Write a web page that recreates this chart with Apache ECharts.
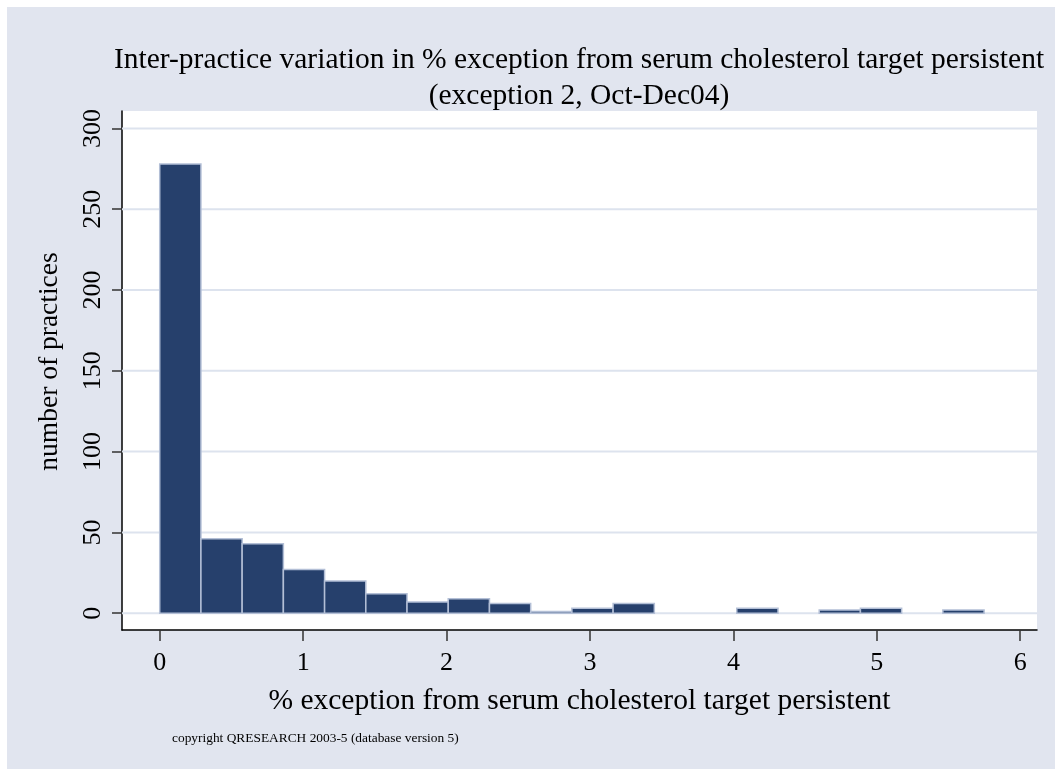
<!DOCTYPE html>
<html>
<head>
<meta charset="utf-8">
<script src="https://cdn.jsdelivr.net/npm/echarts@6/dist/echarts.min.js"></script>
<style>
  html, body { margin: 0; padding: 0; background: #e1e5ef; overflow: hidden; width: 100%; height: 100%; }
  #wrap { position: relative; width: 1055px; height: 769px; overflow: hidden; background: #e1e5ef; }
  #chart { position: absolute; left: 0; top: 0; width: 1055px; height: 769px; }
  .edge { position: absolute; background: #ffffff; pointer-events: none; }
</style>
</head>
<body>
<div id="wrap">
  <div id="chart"></div>
  <div class="edge" style="left:0;top:0;width:1055px;height:7px;"></div>
  <div class="edge" style="left:0;top:0;width:7px;height:769px;"></div>
</div>
<script>
// Histogram of practices by % exception (20 equal-width bins starting at 0)
const binStart = 0;
const binWidth = 0.2874;
const counts = [278, 46, 43, 27, 20, 12, 7, 9, 6, 1, 3, 6, 0, 0, 3, 0, 2, 3, 0, 2];
const xTicks = [0, 1, 2, 3, 4, 5, 6];
const yTicks = [0, 50, 100, 150, 200, 250, 300];

const titleText = 'Inter-practice variation in % exception from serum cholesterol target persistent\n(exception 2, Oct-Dec04)';
const xTitle = '% exception from serum cholesterol target persistent';
const yTitle = 'number of practices';
const note = 'copyright QRESEARCH 2003-5 (database version 5)';

const serif = '"Liberation Serif", "Times New Roman", serif';
const barFill = '#26406c';
const barEdge = '#b3bfd6';
const gridColor = '#dde3ee';

const binData = counts.map((c, i) => [binStart + i * binWidth, binStart + (i + 1) * binWidth, c]);

const chart = echarts.init(document.getElementById('chart'), null, { renderer: 'canvas' });

chart.setOption({
  backgroundColor: '#e1e5ef',
  animation: false,
  title: {
    text: titleText,
    left: 579,
    top: 42,
    textAlign: 'center',
    padding: 0,
    textStyle: {
      fontFamily: serif,
      fontSize: 29.5,
      fontWeight: 'normal',
      color: '#000',
      lineHeight: 36
    }
  },
  grid: {
    left: 122,
    right: 18,
    top: 111,
    bottom: 139,
    show: true,
    backgroundColor: '#ffffff',
    borderWidth: 0
  },
  xAxis: {
    type: 'value',
    min: -0.263,
    max: 6.117,
    name: xTitle,
    nameLocation: 'middle',
    nameGap: 56,
    nameTextStyle: { fontFamily: serif, fontSize: 29.5, color: '#000' },
    axisLine: { show: true, onZero: false, lineStyle: { color: '#000', width: 1.5 } },
    axisTick: { show: true, length: 11, customValues: xTicks, lineStyle: { color: '#333', width: 1.5 } },
    axisLabel: { customValues: xTicks, margin: 20, fontFamily: serif, fontSize: 26, color: '#000' },
    splitLine: { show: false }
  },
  yAxis: {
    type: 'value',
    min: -10.4,
    max: 310.8,
    name: yTitle,
    nameLocation: 'middle',
    nameGap: 58,
    nameRotate: 90,
    nameTextStyle: { fontFamily: serif, fontSize: 27.5, color: '#000', padding: [0, 0, 0, 18] },
    axisLine: { show: true, onZero: false, lineStyle: { color: '#000', width: 1.5 } },
    axisTick: { show: true, length: 10, customValues: yTicks, lineStyle: { color: '#333', width: 1.5 } },
    axisLabel: { customValues: yTicks, rotate: 90, margin: 16, fontFamily: serif, fontSize: 26, color: '#000' },
    splitLine: { show: false }
  },
  graphic: [{
    type: 'text',
    left: 172,
    top: 732,
    silent: true,
    style: { text: note, fontFamily: serif, fontSize: 13.4, fill: '#000' }
  }],
  series: [
    {
      // horizontal reference lines at the y tick values, drawn behind the bars
      type: 'custom',
      z: 1,
      silent: true,
      data: yTicks.map(v => [v]),
      encode: { y: 0 },
      renderItem: function (params, api) {
        const cs = params.coordSys;
        const y = api.coord([0, api.value(0)])[1];
        return {
          type: 'line',
          shape: { x1: cs.x, y1: y, x2: cs.x + cs.width, y2: y },
          style: { stroke: gridColor, lineWidth: 2 }
        };
      }
    },
    {
      type: 'custom',
      z: 3,
      data: binData,
      encode: { x: [0, 1], y: 2 },
      renderItem: function (params, api) {
        const h = api.value(2);
        if (!h) return null;
        const topLeft = api.coord([api.value(0), h]);
        const bottomRight = api.coord([api.value(1), 0]);
        return {
          type: 'rect',
          shape: {
            x: topLeft[0],
            y: topLeft[1],
            width: bottomRight[0] - topLeft[0],
            height: bottomRight[1] - topLeft[1]
          },
          style: { fill: barFill, stroke: barEdge, lineWidth: 1.5 }
        };
      }
    }
  ]
});
</script>
</body>
</html>
